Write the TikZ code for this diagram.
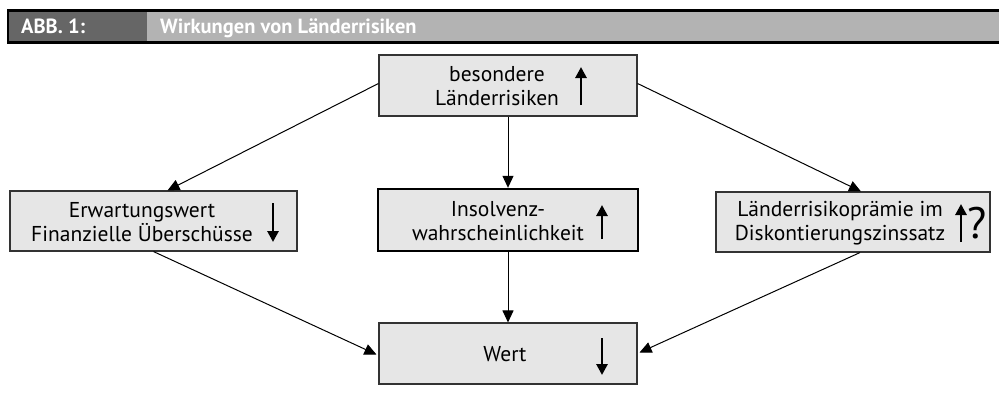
\documentclass[tikz,border=0pt]{standalone}
\usepackage{fontspec}
\setmainfont{PT Sans}
\usetikzlibrary{arrows.meta,calc}
\definecolor{boxfill}{HTML}{E6E6E6}
\definecolor{headdark}{HTML}{666666}
\definecolor{headlight}{HTML}{B3B3B3}
\begin{document}
\begin{tikzpicture}[x=1pt,y=-1pt,
  box/.style={draw=black!80, line width=1.1pt, fill=boxfill, inner sep=0pt},
  strongbox/.style={box, draw=black, line width=2.4pt},
  txt/.style={align=center, font=\fontsize{21.5}{24}\selectfont, inner sep=0pt},
  headtxt/.style={anchor=base west, text=white, inner sep=0pt, font=\fontsize{20.5}{22}\selectfont\bfseries},
  link/.style={line width=1pt, -{Triangle[length=12pt,width=11pt]}},
  trend/.style={line width=2.8pt, -{Triangle[length=11pt,width=11pt]}, shorten >=-2pt}
]
\useasboundingbox (0,0) rectangle (999,408);

% title bar
\fill[headdark] (8,11) rectangle (147,42);
\fill[headlight] (147,11) rectangle (999,42);
\draw[line width=2.6pt] (1002,10.5) -- (8,10.5) -- (8,42.7) -- (1002,42.7);
\node[headtxt] (abb) at (21,33) {ABB. 1:};
\node[headtxt] (title) at (160,33) {Wirkungen von Länderrisiken};

% boxes
\node[box, minimum width=258pt, minimum height=61pt] (risk) at (508,85.5) {};
\node[box, minimum width=287pt, minimum height=60pt] (cash) at (153.5,221) {};
\node[strongbox, minimum width=260pt, minimum height=62pt] (insol) at (508,220) {};
\node[box, minimum width=274pt, minimum height=60pt] (prem) at (853,222) {};
\node[box, minimum width=258pt, minimum height=61pt] (value) at (508,353.5) {};

% box texts
\node[txt] (risk-t) at (497,86) {besondere\\Länderrisiken};
\node[txt] (cash-t) at (142,222) {Erwartungswert\\Finanzielle Überschüsse};
\node[txt] (insol-t) at (498,221) {Insolvenz-\\wahrscheinlichkeit};
\node[txt] (prem-t) at (840,223) {Länderrisikoprämie im\\Diskontierungszinssatz};
\node[txt] (value-t) at (505,354) {Wert};

% trend marks
\draw[trend] (581,105) -- (581,69);
\draw[trend] (273,203) -- (273,240);
\draw[trend] (602,239) -- (602,207);
\draw[trend] (961,242) -- (961,206);
\node[inner sep=0pt, font=\fontsize{44}{44}\selectfont] (q) at (977,223) {?};
\draw[trend] (602,338) -- (602,373);

% connectors
\coordinate (cash-in) at ($(cash.north)+(14,0)$);
\coordinate (prem-in) at ($(prem.north)+(8,0)$);
\coordinate (prem-out) at ($(prem.south)+(7,0)$);
\draw[link] ($(risk.west)+(0,-2)$) -- (cash-in);
\draw[link] ($(risk.east)+(0,-2)$) -- (prem-in);
\draw[link] (risk.south) -- (insol.north);
\draw[link] (cash.south) -- ($(value.west)+(-2,1)$);
\draw[link] (prem-out) -- ($(value.east)+(2,-1)$);
\draw[link] (insol.south) -- (value.north);
\end{tikzpicture}
\end{document}
